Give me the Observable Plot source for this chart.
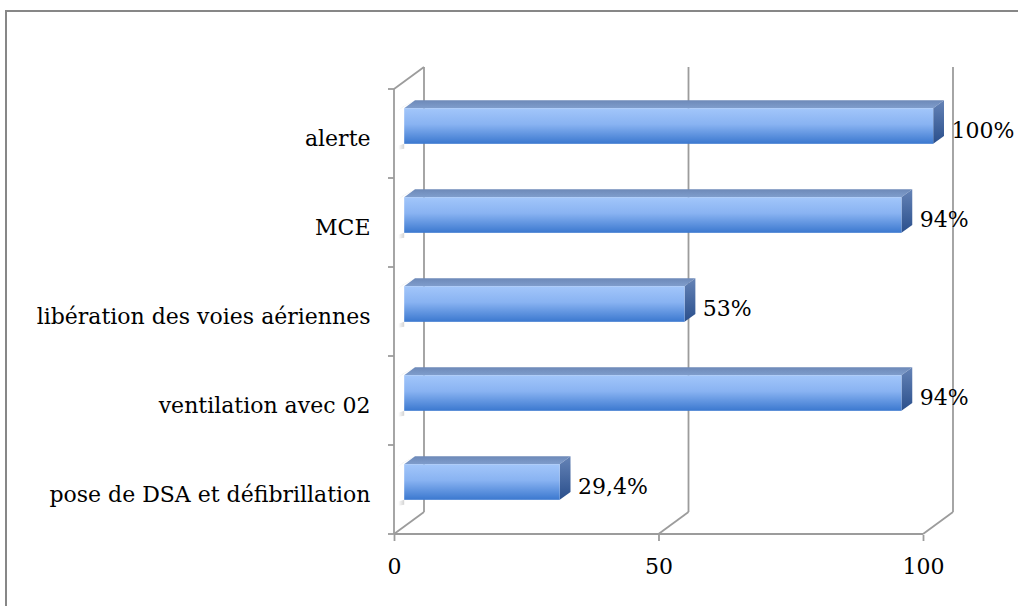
<!DOCTYPE html>
<html><head><meta charset="utf-8">
<script src="https://cdn.jsdelivr.net/npm/d3@7"></script>
<script src="https://cdn.jsdelivr.net/npm/@observablehq/plot@0.6"></script>
<style>
html,body{margin:0;padding:0;background:#fff;overflow:hidden;}
#wrap{position:relative;width:1018px;height:606px;}
#border{position:absolute;left:5px;top:10px;width:1100px;height:800px;border:2px solid #878787;}
#chart{position:absolute;left:0;top:0;}
</style>
</head><body>
<div id="wrap"><div id="border"></div><div id="chart"></div></div>
<script>
const categories = ["alerte", "MCE", "libération des voies aériennes", "ventilation avec 02", "pose de DSA et défibrillation"];
const values = [100, 94, 53, 94, 29.4];
const valueLabels = ["100%", "94%", "53%", "94%", "29,4%"];
const xTicks = [0, 50, 100];

const data = categories.map((c, i) => ({category: c, value: values[i], label: valueLabels[i]}));

const DX = 30, DY = -22;      // depth of the 3D box
const F = 0.34, B = 0.70;      // bar front/back depth fractions
const BAR = 0.40;              // bar thickness as fraction of band
const GRID = "#9c9c9c";

function bandInfo(y, dims) {
  return y.bandwidth ? y.bandwidth() : (dims.height - dims.marginTop - dims.marginBottom) / categories.length;
}

function wallsRender(index, scales, vals, dims) {
  const x = scales.x, y = scales.y;
  const bw = bandInfo(y, dims);
  const top = y(categories[0]);
  const bot = y(categories[categories.length - 1]) + bw;
  const x0 = x(xTicks[0]), x1 = x(xTicks[xTicks.length - 1]);
  const g = d3.create("svg:g").attr("fill", "none").attr("stroke", GRID).attr("stroke-width", 1.8);
  for (const t of xTicks) {
    g.append("line").attr("x1", x(t) + DX).attr("x2", x(t) + DX).attr("y1", top + DY).attr("y2", bot + DY);
    g.append("line").attr("x1", x(t)).attr("y1", bot).attr("x2", x(t) + DX).attr("y2", bot + DY);
  }
  g.append("line").attr("x1", x0).attr("x2", x0).attr("y1", top).attr("y2", bot);
  g.append("line").attr("x1", x0).attr("y1", top).attr("x2", x0 + DX).attr("y2", top + DY);
  g.append("line").attr("x1", x0).attr("y1", bot).attr("x2", x1).attr("y2", bot);
  const bounds = categories.map(c => y(c)).concat([bot]);
  for (const b of bounds) g.append("line").attr("x1", x0 - 6).attr("x2", x0).attr("y1", b).attr("y2", b);
  return g.node();
}

function barsRender(index, scales, vals, dims) {
  const x = scales.x, y = scales.y;
  const bw = bandInfo(y, dims);
  const g = d3.create("svg:g");
  const defs = g.append("defs");
  const fg = defs.append("linearGradient").attr("id", "gFront").attr("x1", 0).attr("y1", 0).attr("x2", 0).attr("y2", 1);
  fg.append("stop").attr("offset", 0).attr("stop-color", "#a2c6fa");
  fg.append("stop").attr("offset", 0.45).attr("stop-color", "#89b3f2");
  fg.append("stop").attr("offset", 1).attr("stop-color", "#3b78cf");
  const sg = defs.append("linearGradient").attr("id", "gSide").attr("x1", 0).attr("y1", 0).attr("x2", 0).attr("y2", 1);
  sg.append("stop").attr("offset", 0).attr("stop-color", "#6583b6");
  sg.append("stop").attr("offset", 1).attr("stop-color", "#2a4f8c");
  const tg = defs.append("linearGradient").attr("id", "gTop").attr("x1", 0).attr("y1", 1).attr("x2", 0).attr("y2", 0);
  tg.append("stop").attr("offset", 0).attr("stop-color", "#7f9dcc");
  tg.append("stop").attr("offset", 1).attr("stop-color", "#6d89b8");
  const sh = defs.append("linearGradient").attr("id", "gShadow").attr("x1", 0).attr("y1", 0).attr("x2", 1).attr("y2", 0);
  sh.append("stop").attr("offset", 0).attr("stop-color", "#ffffff");
  sh.append("stop").attr("offset", 1).attr("stop-color", "#a8a8a8");

  const fx = F * DX, fy = F * DY, bx = B * DX, by = B * DY;
  for (const d of data) {
    const cy = y(d.category) + bw / 2;
    const yt = cy - BAR * bw / 2 + fy, yb = cy + BAR * bw / 2 + fy;
    const xa = x(0) + fx, xb = x(d.value) + fx;
    const ddx = bx - fx, ddy = by - fy;
    g.append("polygon")
      .attr("points", [[xa - 8, yt + 4], [xa, yt - 2], [xa + ddx, yt + ddy], [xa - 8 + ddx * 0.6, yt + ddy * 0.2]].map(p => p.join(",")).join(" "))
      .attr("fill", "url(#gShadow)").attr("opacity", 0.7);
    g.append("polygon")
      .attr("points", [[xa - 6, yb + 2], [xa, yb], [xa, yb + 5], [xa - 6, yb + 6]].map(p => p.join(",")).join(" "))
      .attr("fill", "url(#gShadow)").attr("opacity", 0.5);
    g.append("polygon")
      .attr("points", [[xa, yt], [xb, yt], [xb + ddx, yt + ddy], [xa + ddx, yt + ddy]].map(p => p.join(",")).join(" "))
      .attr("fill", "url(#gTop)");
    g.append("polygon")
      .attr("points", [[xb, yt], [xb + ddx, yt + ddy], [xb + ddx, yb + ddy], [xb, yb]].map(p => p.join(",")).join(" "))
      .attr("fill", "url(#gSide)");
    g.append("rect").attr("x", xa).attr("y", yt).attr("width", xb - xa).attr("height", yb - yt)
      .attr("fill", "url(#gFront)");
  }
  return g.node();
}

const chart = Plot.plot({
  width: 1018,
  height: 606,
  marginLeft: 394,
  marginRight: 95,
  marginTop: 88,
  marginBottom: 71,
  style: {fontFamily: "'DejaVu Serif', serif", fontSize: "22px", color: "#000", background: "transparent"},
  x: {domain: [0, 100]},
  y: {domain: categories, padding: 0},
  marks: [
    Plot.barX(data, {x: "value", y: "category", render: wallsRender}),
    Plot.barX(data, {x: "value", y: "category", render: barsRender}),
    Plot.axisX({ticks: xTicks, tickSize: 6, tickPadding: 17, fontSize: 22, stroke: GRID, strokeWidth: 1.8, fill: "#000", label: null}),
    Plot.axisY({tickSize: 0, tickPadding: 24, fontSize: 22, dy: 5, fill: "#000", label: null}),
    Plot.text(data, {x: "value", y: "category", text: "label", textAnchor: "start", dx: 28, dy: -3, fontSize: 22, fill: "#000"})
  ]
});
document.getElementById("chart").appendChild(chart);
</script>
</body></html>
